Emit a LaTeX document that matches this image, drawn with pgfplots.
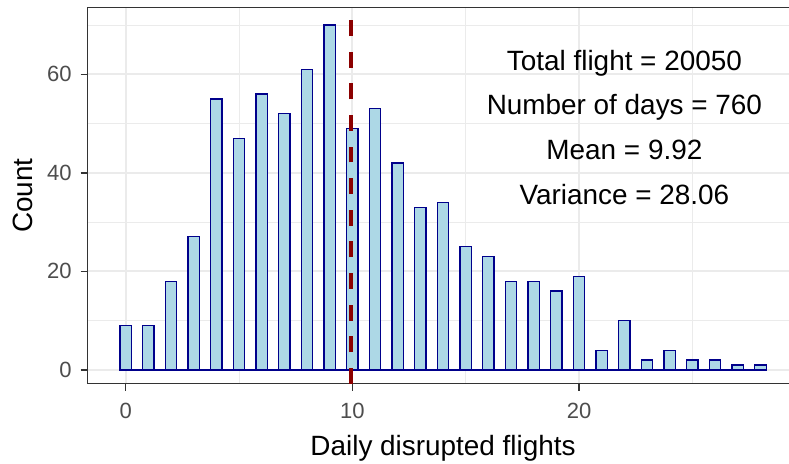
\documentclass[border=0pt]{standalone}
\usepackage{fontspec}
\setmainfont{Liberation Sans}
\usepackage{pgfplots}
\pgfplotsset{compat=1.18}
\usetikzlibrary{calc}
\definecolor{barfill}{HTML}{ADD8E6}
\definecolor{barline}{HTML}{00008B}
\definecolor{meanred}{HTML}{8B0000}
\definecolor{gridc}{HTML}{EBEBEB}
\definecolor{framec}{HTML}{333333}
\definecolor{tickc}{HTML}{4D4D4D}
\begin{document}
\begin{tikzpicture}
\begin{axis}[
  scale only axis, width=710.7bp, height=376.4bp,
  xmin=-1.675, xmax=29.675, ymin=-2.8, ymax=73.6,
  xtick={0,10,20}, minor xtick={5,15,25},
  ytick={0,20,40,60}, minor ytick={10,30,50,70},
  grid=both,
  major grid style={draw=gridc, line width=1.9bp},
  minor grid style={draw=gridc, line width=0.95bp},
  axis line style={draw=framec, line width=1.5bp},
  tick pos=left, tick align=outside,
  major tick length=7bp, minor tick length=0pt,
  tick style={draw=framec, line width=1.5bp},
  /pgf/number format/assume math mode=true,
  ticklabel style={font=\fontsize{22.1}{26}\selectfont, text=tickc},
  xticklabel style={anchor=north, inner sep=0pt, yshift=-12bp},
  yticklabel style={anchor=east, inner sep=0pt, xshift=-9bp},
  xlabel={Daily disrupted flights},
  ylabel={Count},
  label style={font=\fontsize{28}{32}\selectfont},
  xlabel style={at={(axis description cs:0.5,-0.18943)}, anchor=base},
  ylabel style={at={(axis description cs:-0.07697,0.5)}, anchor=base},
]
\addplot[barline, line width=1.2bp] coordinates {(-0.25,0) (28.25,0)};
\addplot[ybar, bar width=0.5, fill=barfill, draw=barline, line width=1.2bp] coordinates {
  (0,9) (1,9) (2,18) (3,27) (4,55) (5,47) (6,56) (7,52) (8,61) (9,70)
  (10,49) (11,53) (12,42) (13,33) (14,34) (15,25) (16,23) (17,18) (18,18) (19,16)
  (20,19) (21,4) (22,10) (23,2) (24,4) (25,2) (26,2) (27,1) (28,1)};
\addplot[meanred, line width=4bp, dash pattern=on 15.8bp off 15.8bp] coordinates {(9.92,-2.8) (9.92,73.6)};
\node[anchor=base, font=\fontsize{28}{32}\selectfont] at (axis cs:22,60.87) {Total flight = 20050};
\node[anchor=base, font=\fontsize{28}{32}\selectfont] at (axis cs:22,51.75) {Number of days = 760};
\node[anchor=base, font=\fontsize{28}{32}\selectfont] at (axis cs:22,42.62) {Mean = 9.92};
\node[anchor=base, font=\fontsize{28}{32}\selectfont] at (axis cs:22,33.49) {Variance = 28.06};
\coordinate (SW) at (rel axis cs:0,0);
\end{axis}
\pgfresetboundingbox
\path[use as bounding box] ($(SW)+(-87.7bp,-80.3bp)$) rectangle ($(SW)+(701.3bp,383.7bp)$);
\end{tikzpicture}
\end{document}
